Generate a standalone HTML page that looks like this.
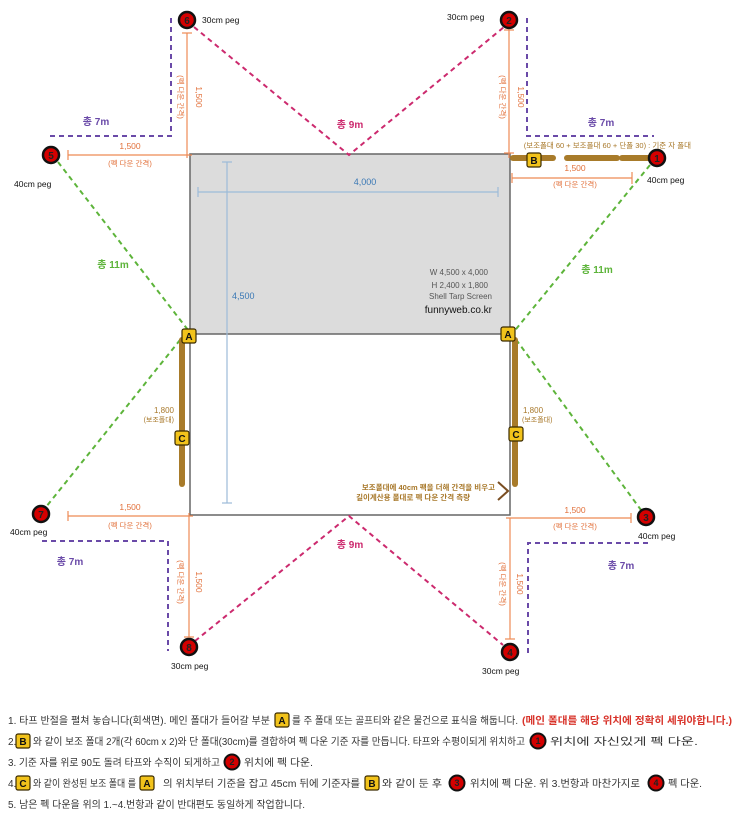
<!DOCTYPE html>
<html><head><meta charset="utf-8"><style>
html,body{margin:0;padding:0;background:#fff;width:743px;height:827px;overflow:hidden}
svg{display:block}
text{font-family:"Liberation Sans","Noto Sans CJK KR",sans-serif}
</style></head><body>
<svg width="743" height="827" viewBox="0 0 743 827" xmlns="http://www.w3.org/2000/svg">
<defs>
<g id="bA"><rect x="-7" y="-7" width="14" height="14" rx="2" fill="#f2c31b" stroke="#3a2a00" stroke-width="1.2"/><text x="0" y="4" font-size="10" font-weight="bold" text-anchor="middle" fill="#111">A</text></g>
<g id="bB"><rect x="-7" y="-7" width="14" height="14" rx="2" fill="#f2c31b" stroke="#3a2a00" stroke-width="1.2"/><text x="0" y="4" font-size="10" font-weight="bold" text-anchor="middle" fill="#111">B</text></g>
<g id="bC"><rect x="-7" y="-7" width="14" height="14" rx="2" fill="#f2c31b" stroke="#3a2a00" stroke-width="1.2"/><text x="0" y="4" font-size="10" font-weight="bold" text-anchor="middle" fill="#111">C</text></g>
</defs>

<rect x="190" y="154" width="320" height="180" fill="#dcdcdc"/>
<rect x="190" y="154" width="320" height="361" fill="none" stroke="#666" stroke-width="1.5"/>
<line x1="190" y1="334" x2="510" y2="334" stroke="#666" stroke-width="1.5"/>
<g stroke="#9dbbd8" stroke-width="1.2">
<line x1="198" y1="192" x2="498" y2="192"/><line x1="198" y1="187" x2="198" y2="197"/><line x1="498" y1="187" x2="498" y2="197"/>
<line x1="227" y1="162" x2="227" y2="503"/><line x1="222" y1="162" x2="232" y2="162"/><line x1="222" y1="503" x2="232" y2="503"/>
</g>
<text x="365" y="185" font-size="9" fill="#3a78b5" text-anchor="middle">4,000</text>
<text x="232" y="299" font-size="9" fill="#3a78b5">4,500</text>
<g font-size="8" fill="#555" text-anchor="end">
<text x="488" y="275">W 4,500 x 4,000</text>
<text x="488" y="288">H 2,400 x 1,800</text>
<text x="492" y="299">Shell Tarp Screen</text>
</g>
<text x="492" y="313" font-size="10" fill="#111" text-anchor="end">funnyweb.co.kr</text>
<text x="495" y="490" font-size="7.5" fill="#a8782a" text-anchor="end" font-weight="bold">보조폴대에 40cm 팩을 더해 간격을 비우고</text>
<text x="470" y="500" font-size="7.5" fill="#a8782a" text-anchor="end" font-weight="bold">길이계산용 폴대로 펙 다운 간격 측량</text>
<polyline points="498,482 508,491 498,500" fill="none" stroke="#7a4e22" stroke-width="2"/>

<g stroke="#cc2a6e" stroke-width="2" stroke-dasharray="5,4" fill="none">
<polyline points="194,27 349,155 504,27"/>
<polyline points="195,641 349,516 503,645"/>
</g>
<text x="350" y="128" font-size="10" font-weight="bold" fill="#cc2a6e" text-anchor="middle">총 9m</text>
<text x="350" y="548" font-size="10" font-weight="bold" fill="#cc2a6e" text-anchor="middle">총 9m</text>
<g stroke="#5db43a" stroke-width="2" stroke-dasharray="5,4" fill="none">
<polyline points="58,162 188,330 46,507"/>
<polyline points="650,165 512,334 641,510"/>
</g>
<text x="113" y="268" font-size="10" font-weight="bold" fill="#5db43a" text-anchor="middle">총 11m</text>
<text x="597" y="273" font-size="10" font-weight="bold" fill="#5db43a" text-anchor="middle">총 11m</text>
<g stroke="#6a4aa8" stroke-width="2" stroke-dasharray="5,4" fill="none">
<polyline points="171,18 171,136 50,136"/>
<polyline points="527,18 527,136 654,136"/>
<polyline points="42,541 168,541 168,651"/>
<polyline points="648,543 528,543 528,656"/>
</g>
<g font-size="10" font-weight="bold" fill="#6a4aa8" text-anchor="middle">
<text x="96" y="125">총 7m</text><text x="601" y="126">총 7m</text>
<text x="70" y="565">총 7m</text><text x="621" y="569">총 7m</text>
</g>

<g stroke="#ee8a55" stroke-width="1.2">
<line x1="187" y1="33" x2="187" y2="158"/><line x1="182" y1="33" x2="192" y2="33"/>
<line x1="68" y1="155" x2="192" y2="155"/><line x1="68" y1="150" x2="68" y2="160"/>
<line x1="509" y1="30" x2="509" y2="158"/><line x1="504" y1="30" x2="514" y2="30"/><line x1="504" y1="153" x2="514" y2="153"/>
<line x1="512" y1="178" x2="632" y2="178"/><line x1="632" y1="172" x2="632" y2="184"/><line x1="512" y1="173" x2="512" y2="183"/>
<line x1="68" y1="516" x2="193" y2="516"/><line x1="68" y1="511" x2="68" y2="521"/>
<line x1="189" y1="513" x2="189" y2="637"/><line x1="184" y1="637" x2="194" y2="637"/>
<line x1="506" y1="518" x2="631" y2="518"/><line x1="631" y1="513" x2="631" y2="523"/>
<line x1="510" y1="518" x2="510" y2="639"/><line x1="505" y1="639" x2="515" y2="639"/>
</g>
<g font-size="8.5" fill="#e2703a" text-anchor="middle">
<text x="130" y="149">1,500</text><text x="130" y="166" font-size="7.5">(펙 다운 간격)</text>
<text x="575" y="171">1,500</text><text x="575" y="187" font-size="7.5">(펙 다운 간격)</text>
<text x="130" y="510">1,500</text><text x="130" y="528" font-size="7.5">(펙 다운 간격)</text>
<text x="575" y="513">1,500</text><text x="575" y="529" font-size="7.5">(펙 다운 간격)</text>
<text transform="translate(196,97) rotate(90)">1,500</text>
<text transform="translate(178,97) rotate(90)" font-size="7.5">(펙 다운 간격)</text>
<text transform="translate(518,97) rotate(90)">1,500</text>
<text transform="translate(500,97) rotate(90)" font-size="7.5">(펙 다운 간격)</text>
<text transform="translate(196,582) rotate(90)">1,500</text>
<text transform="translate(178,582) rotate(90)" font-size="7.5">(펙 다운 간격)</text>
<text transform="translate(517,584) rotate(90)">1,500</text>
<text transform="translate(500,584) rotate(90)" font-size="7.5">(펙 다운 간격)</text>
</g>

<g stroke="#a87b2a" stroke-width="6" stroke-linecap="round">
<line x1="182" y1="340" x2="182" y2="484"/>
<line x1="515" y1="340" x2="515" y2="484"/>
<line x1="513" y1="158" x2="553" y2="158"/><line x1="567" y1="158" x2="617" y2="158"/><line x1="622" y1="158" x2="650" y2="158"/>
</g>
<g font-size="8" fill="#a8782a" text-anchor="end">
<text x="174" y="413">1,800</text><text x="174" y="422" font-size="7">(보조폴대)</text>
</g>
<g font-size="8" fill="#a8782a">
<text x="523" y="413">1,800</text><text x="522" y="422" font-size="7">(보조폴대)</text>
</g>
<text x="691" y="148" font-size="7.5" fill="#a8782a" text-anchor="end">(보조폴대 60 + 보조폴대 60 + 단폴 30) : 기준 자 폴대</text>

<use href="#bA" x="189" y="336"/><use href="#bA" x="508" y="334"/>
<use href="#bC" x="182" y="438"/><use href="#bC" x="516" y="434"/>
<use href="#bB" x="534" y="160"/>

<g stroke="#111" stroke-width="2.5" fill="#d40000">
<circle cx="187" cy="20" r="8"/><circle cx="509" cy="20" r="8"/><circle cx="51" cy="155" r="8"/><circle cx="657" cy="158" r="8"/>
<circle cx="41" cy="514" r="8"/><circle cx="646" cy="517" r="8"/><circle cx="189" cy="647" r="8"/><circle cx="510" cy="652" r="8"/>
</g>
<g font-size="10" font-weight="bold" fill="#222" text-anchor="middle">
<text x="187" y="24">6</text><text x="509" y="24">2</text><text x="51" y="159">5</text><text x="657" y="162">1</text>
<text x="41" y="518">7</text><text x="646" y="521">3</text><text x="189" y="651">8</text><text x="510" y="656">4</text>
</g>
<g font-size="8.5" fill="#111">
<text x="202" y="23">30cm peg</text><text x="447" y="20">30cm peg</text>
<text x="14" y="187">40cm peg</text><text x="647" y="183">40cm peg</text>
<text x="10" y="535">40cm peg</text><text x="638" y="539">40cm peg</text>
<text x="171" y="669">30cm peg</text><text x="482" y="674">30cm peg</text>
</g>

<g font-size="10" fill="#333">
<text x="8" y="724" textLength="262" lengthAdjust="spacingAndGlyphs">1. 타프 반절을 펼쳐 놓습니다(회색면). 메인 폴대가 들어갈 부분</text>
<text x="292" y="724" textLength="226" lengthAdjust="spacingAndGlyphs">를 주 폴대 또는 골프티와 같은 물건으로 표식을 해둡니다.</text>
<text x="522" y="724" textLength="210" lengthAdjust="spacingAndGlyphs" fill="#d8332a" font-weight="bold">(메인 폴대를 해당 위치에 정확히 세워야합니다.)</text>
<text x="8" y="745">2.</text>
<text x="33" y="745" textLength="492" lengthAdjust="spacingAndGlyphs">와 같이 보조 폴대 2개(각 60cm x 2)와 단 폴대(30cm)를 결합하여 펙 다운 기준 자를 만듭니다. 타프와 수평이되게 위치하고</text>
<text x="550" y="745" textLength="148" lengthAdjust="spacingAndGlyphs">위치에 자신있게 펙 다운.</text>
<text x="8" y="766" textLength="212" lengthAdjust="spacingAndGlyphs">3. 기준 자를 위로 90도 돌려 타프와 수직이 되게하고</text>
<text x="244" y="766" textLength="69" lengthAdjust="spacingAndGlyphs">위치에 펙 다운.</text>
<text x="8" y="787">4.</text>
<text x="33" y="787" textLength="103" lengthAdjust="spacingAndGlyphs">와 같이 완성된 보조 폴대 를</text>
<text x="163" y="787" textLength="197" lengthAdjust="spacingAndGlyphs">의 위치부터 기준을 잡고 45cm 뒤에 기준자를</text>
<text x="382" y="787" textLength="60" lengthAdjust="spacingAndGlyphs">와 같이 둔 후</text>
<text x="470" y="787" textLength="170" lengthAdjust="spacingAndGlyphs">위치에 펙 다운. 위 3.번항과 마찬가지로</text>
<text x="668" y="787" textLength="34" lengthAdjust="spacingAndGlyphs">펙 다운.</text>
<text x="8" y="808" textLength="297" lengthAdjust="spacingAndGlyphs">5. 남은 펙 다운을 위의 1.~4.번항과 같이 반대편도 동일하게 작업합니다.</text>
</g>
<use href="#bA" x="282" y="720"/>
<use href="#bB" x="23" y="741"/>
<use href="#bC" x="23" y="783"/><use href="#bA" x="147" y="783"/><use href="#bB" x="372" y="783"/>
<g stroke="#111" stroke-width="2" fill="#d40000">
<circle cx="538" cy="741" r="7.5"/><circle cx="232" cy="762" r="7.5"/><circle cx="457" cy="783" r="7.5"/><circle cx="656" cy="783" r="7.5"/>
</g>
<g font-size="9" font-weight="bold" fill="#222" text-anchor="middle">
<text x="538" y="744">1</text><text x="232" y="765">2</text><text x="457" y="786">3</text><text x="656" y="786">4</text>
</g>
</svg>
</body></html>
